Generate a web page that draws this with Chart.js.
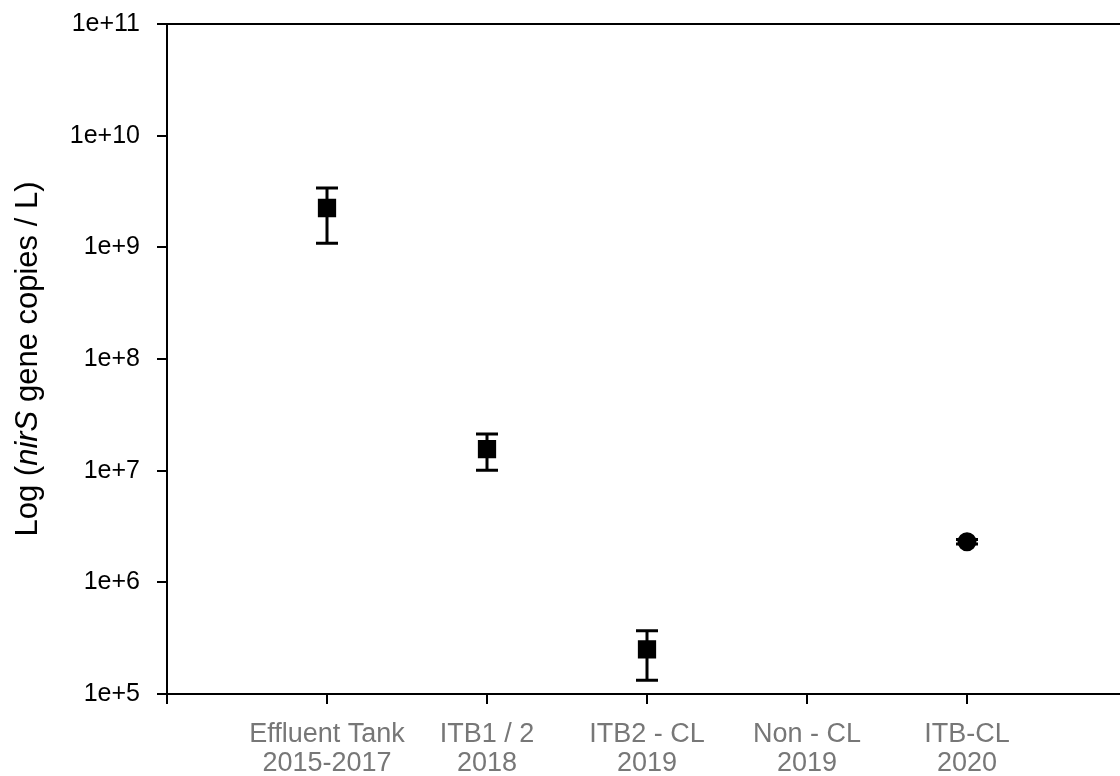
<!DOCTYPE html>
<html>
<head>
<meta charset="utf-8">
<script src="https://cdn.jsdelivr.net/npm/chart.js@4.4.1/dist/chart.umd.min.js"></script>
<style>
  html, body { margin: 0; padding: 0; background: #fff; }
  #wrap { width: 1120px; height: 776px; }
</style>
</head>
<body>
<div id="wrap"><canvas id="chart" width="1120" height="776"></canvas></div>
<script>
// categories (x positions 1..5), Non - CL 2019 has no value
const categories = [
    ["Effluent Tank", "2015-2017"],
    ["ITB1 / 2", "2018"],
    ["ITB2 - CL", "2019"],
    ["Non - CL", "2019"],
    ["ITB-CL", "2020"]
];
const positions = [1, 2, 3, 4, 5];
const means = [2.25e9, 1.56e7, 2.51e5, null, 2.31e6];
const upper = [3.4e9, 2.13e7, 3.69e5, null, 2.42e6];
const lower = [1.09e9, 1.01e7, 1.33e5, null, 2.2e6];
const yTicks = [1e5, 1e6, 1e7, 1e8, 1e9, 1e10, 1e11];

const FONT = "'Liberation Sans', Arial, sans-serif";

const points = [];
for (let i = 0; i < positions.length; i++) {
    if (means[i] !== null) {
        points.push({ x: positions[i], y: means[i], hi: upper[i], lo: lower[i] });
    }
}

const errorBars = {
    id: "errorBars",
    beforeDatasetsDraw(chart) {
        const ctx = chart.ctx;
        const xs = chart.scales.x;
        const ys = chart.scales.y;
        ctx.save();
        ctx.strokeStyle = "#000";
        ctx.lineWidth = 3;
        points.forEach(p => {
            const x = xs.getPixelForValue(p.x);
            const top = ys.getPixelForValue(p.hi);
            const bot = ys.getPixelForValue(p.lo);
            ctx.beginPath();
            ctx.moveTo(x, top);
            ctx.lineTo(x, bot);
            ctx.moveTo(x - 11, top);
            ctx.lineTo(x + 11, top);
            ctx.moveTo(x - 11, bot);
            ctx.lineTo(x + 11, bot);
            ctx.stroke();
        });
        ctx.restore();
    }
};

const frame = {
    id: "frame",
    afterDraw(chart) {
        const ctx = chart.ctx;
        const a = chart.chartArea;
        ctx.save();
        ctx.strokeStyle = "#000";
        ctx.lineWidth = 2;
        ctx.beginPath();
        ctx.moveTo(a.left, a.top);
        ctx.lineTo(chart.width, a.top);
        ctx.stroke();

        // y title with italic gene name
        const parts = [
            ["Log (", "normal"],
            ["nirS", "italic"],
            [" gene copies / L)", "normal"]
        ];
        const size = 31;
        let total = 0;
        parts.forEach(p => {
            ctx.font = p[1] + " " + size + "px " + FONT;
            total += ctx.measureText(p[0]).width;
        });
        ctx.translate(37, (a.top + a.bottom) / 2);
        ctx.rotate(-Math.PI / 2);
        ctx.fillStyle = "#000";
        ctx.textBaseline = "alphabetic";
        ctx.textAlign = "left";
        let x = -total / 2;
        parts.forEach(p => {
            ctx.font = p[1] + " " + size + "px " + FONT;
            ctx.fillText(p[0], x, 0);
            x += ctx.measureText(p[0]).width;
        });
        ctx.restore();
    }
};

new Chart(document.getElementById("chart"), {
    type: "scatter",
    data: {
        datasets: [{
            data: points,
            backgroundColor: "#000",
            borderColor: "#000",
            borderWidth: 2,
            pointStyle: ["rect", "rect", "rect", "circle"],
            pointRadius: [11.5, 11.5, 11.5, 8.5],
            pointHoverRadius: [11.5, 11.5, 11.5, 8.5]
        }]
    },
    options: {
        responsive: false,
        animation: false,
        layout: { autoPadding: false, padding: { top: 24, right: 0, left: 0, bottom: 0 } },
        plugins: {
            legend: { display: false },
            tooltip: { enabled: false }
        },
        scales: {
            x: {
                type: "linear",
                min: 0,
                max: 953 / 160,
                afterBuildTicks: (scale) => {
                    scale.ticks = [0, 1, 2, 3, 4, 5].map(v => ({ value: v }));
                },
                afterFit: (scale) => {
                    scale.height = 82;
                    scale.paddingLeft = 0;
                    scale.paddingRight = 0;
                },
                grid: {
                    drawOnChartArea: false,
                    drawTicks: true,
                    tickLength: 10,
                    color: "#000",
                    lineWidth: 2
                },
                border: { display: true, color: "#000", width: 2 },
                ticks: {
                    autoSkip: false,
                    maxRotation: 0,
                    padding: 16,
                    color: "#777777",
                    font: { family: FONT, size: 27, lineHeight: 1.08 },
                    callback: (v) => (v >= 1 && v <= 5) ? categories[v - 1] : ""
                }
            },
            y: {
                type: "logarithmic",
                min: 1e5,
                max: 1e11,
                afterBuildTicks: (scale) => {
                    scale.ticks = yTicks.map(v => ({ value: v }));
                },
                afterFit: (scale) => {
                    scale.width = 167;
                    scale.paddingTop = 0;
                    scale.paddingBottom = 0;
                },
                grid: {
                    drawOnChartArea: false,
                    drawTicks: true,
                    tickLength: 10,
                    color: "#000",
                    lineWidth: 2
                },
                border: { display: true, color: "#000", width: 2 },
                ticks: {
                    autoSkip: false,
                    padding: 17,
                    color: "#000",
                    font: { family: FONT, size: 25 },
                    callback: (v) => "1e+" + Math.round(Math.log10(v))
                }
            }
        }
    },
    plugins: [errorBars, frame]
});
</script>
</body>
</html>
